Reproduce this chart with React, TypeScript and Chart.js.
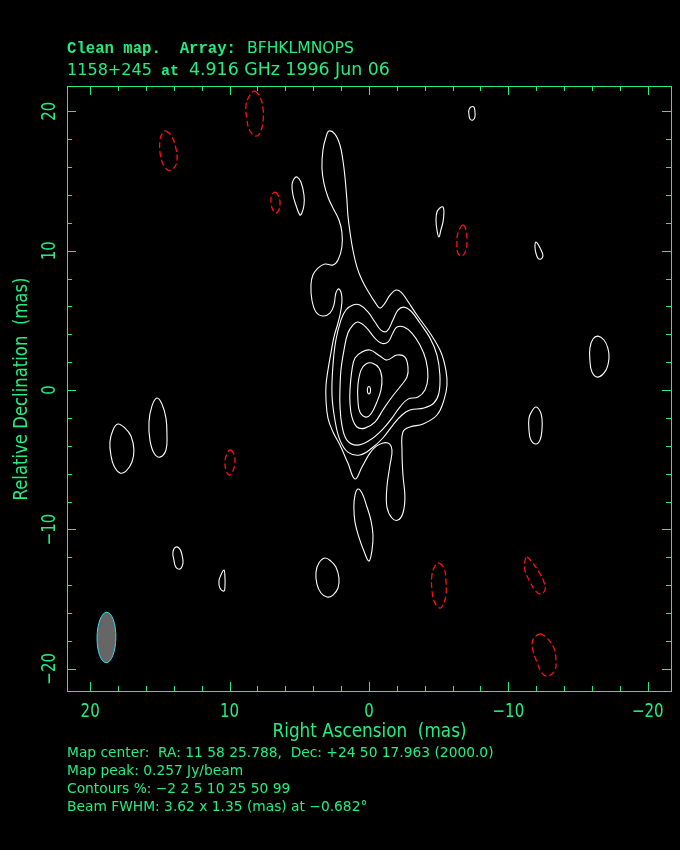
import { useEffect, useRef } from "react";
import { Chart, registerables } from "chart.js";

Chart.register(...registerables);

type Pt = [number, number]; // [relative RA (mas), relative Dec (mas)]

// ---------- axes ----------
const RA_MIN = -21.74;
const RA_MAX = 21.66;
const DEC_MIN = -21.66;
const DEC_MAX = 21.81;
const MAJOR_TICKS = [-20, -10, 0, 10, 20];
const MINOR_TICKS = [-18, -16, -14, -12, -8, -6, -4, -2, 2, 4, 6, 8, 12, 14, 16, 18];
const TICK_LABELS = ["−20", "−10", "0", "10", "20"];

// ---------- texts ----------
const TITLE_1A = "Clean map.  Array:";
const TITLE_1B = "BFHKLMNOPS";
const TITLE_2A = "1158+245";
const TITLE_2B = "at";
const TITLE_2C = "4.916 GHz 1996 Jun 06";
const X_TITLE = "Right Ascension  (mas)";
const Y_TITLE = "Relative Declination  (mas)";
const INFO_LINES = [
  "Map center:  RA: 11 58 25.788,  Dec: +24 50 17.963 (2000.0)",
  "Map peak: 0.257 Jy/beam",
  "Contours %: −2 2 5 10 25 50 99",
  "Beam FWHM: 3.62 x 1.35 (mas) at −0.682°",
];

// ---------- restoring beam ----------
const BEAM_RA = 18.83;
const BEAM_DEC = -17.75;
const BEAM_MAJOR = 3.62;
const BEAM_MINOR = 1.35;
const BEAM_PA = -0.682;

// ---------- positive contours (2, 5, 10, 25, 50, 99 %) ----------
const C99_CORE: Pt[] = [[0, 0.25], [-0.1, 0.12], [-0.1, -0.15], [0, -0.28], [0.1, -0.15], [0.1, 0.12]];
const C50_CORE: Pt[] = [
  [-0.22, 1.94], [-0.72, 1.58], [-0.93, 0.86], [-0.86, 0], [-0.57, -0.86], [-0.14, -1.72],
  [0.22, -1.94], [0.65, -1.58], [0.79, -0.72], [0.79, 0.36], [0.57, 1.43], [0.22, 1.87],
];
const C25_CORE: Pt[] = [
  [1.0, 2.3], [0.5, 2.73], [-0.07, 2.87], [-0.79, 2.44], [-1.29, 2.15], [-2.01, 2.51], [-2.58, 2.37],
  [-2.8, 1.65], [-2.73, 0.93], [-2.22, 0.22], [-1.65, -0.5], [-1.0, -1.43], [-0.43, -2.3],
  [0.29, -2.73], [0.86, -2.65], [1.22, -1.94], [1.36, -0.93], [1.36, 0], [1.22, 1.43],
];
const C10_CORE: Pt[] = [
  [1.51, 4.09], [1.15, 4.66], [0.79, 4.88], [0.22, 4.52], [-0.36, 3.8], [-0.86, 3.37], [-1.36, 3.44],
  [-1.72, 4.09], [-2.01, 4.52], [-2.51, 4.52], [-3.08, 4.09], [-3.66, 3.23], [-4.09, 2.15],
  [-4.23, 0.93], [-4.02, 0], [-3.52, -0.5], [-2.8, -0.65], [-2.22, -1.22], [-1.65, -2.01],
  [-0.93, -2.87], [-0.07, -3.59], [0.86, -3.95], [1.58, -3.59], [1.94, -2.51], [2.08, -1.08],
  [2.08, 0], [2.01, 1.43], [1.79, 2.87],
];
const C5_CORE: Pt[] = [
  [1.65, 5.74], [1.15, 6.1], [0.65, 6.1], [0.07, 5.6], [-0.43, 4.88], [-0.86, 4.3], [-1.29, 4.23],
  [-1.72, 5.02], [-2.08, 5.74], [-2.51, 5.95], [-3.01, 5.67], [-3.66, 4.81], [-4.38, 3.73],
  [-4.88, 2.51], [-5.09, 1.08], [-5.02, -0.22], [-4.66, -0.93], [-3.95, -1.29], [-2.94, -1.43],
  [-2.37, -1.79], [-1.72, -2.51], [-1.0, -3.44], [-0.22, -4.16], [0.65, -4.66], [1.51, -4.45],
  [2.08, -3.59], [2.44, -2.15], [2.65, -0.36], [2.58, 1.79], [2.37, 3.59], [2.01, 5.02],
];
const C2_JET: Pt[] = [
  [2.87, 18.58], [2.44, 18.36], [2.08, 17.58], [1.87, 16.5], [1.72, 15.28], [1.58, 13.63],
  [1.51, 12.55], [1.36, 11.33], [1.15, 10.04], [0.86, 8.82], [0.5, 7.89], [0.07, 7.1],
  [-0.43, 6.31], [-0.79, 5.88], [-1.15, 6.24], [-1.51, 6.81], [-1.94, 7.17], [-2.3, 7.03],
  [-2.73, 6.46], [-3.44, 5.38], [-4.38, 4.09], [-5.16, 2.73], [-5.52, 1.43], [-5.6, 0.36],
  [-5.38, -0.72], [-4.88, -1.79], [-3.87, -2.44], [-2.94, -2.65], [-2.44, -3.01], [-2.37, -4.3],
  [-2.44, -6.1], [-2.58, -7.68], [-2.44, -8.82], [-2.08, -9.33], [-1.65, -9.18], [-1.29, -8.39],
  [-1.29, -6.96], [-1.51, -5.38], [-1.65, -4.3], [-1.36, -3.8], [-0.65, -3.95], [-0.07, -4.52],
  [0.5, -5.52], [1.0, -6.38], [1.51, -5.24], [2.08, -3.95], [2.58, -3.01], [2.94, -2.01],
  [3.08, -0.72], [3.08, 0.36], [2.94, 1.43], [2.73, 2.65], [2.51, 3.8], [2.22, 4.81], [2.01, 5.74],
  [1.94, 6.67], [2.15, 7.25], [2.37, 6.96], [2.51, 6.1], [2.8, 5.52], [3.3, 5.31], [3.8, 5.6],
  [4.09, 6.46], [4.16, 7.53], [4.02, 8.25], [3.66, 8.75], [3.16, 9.04], [2.58, 8.97], [2.22, 9.33],
  [1.94, 10.26], [1.94, 11.33], [2.15, 12.2], [2.58, 13.06], [2.94, 13.85], [3.23, 14.85],
  [3.37, 15.93], [3.3, 17.22], [3.08, 18.15],
];
const C2_NE1: Pt[] = [
  [5.16, 15.28], [4.88, 14.92], [4.66, 13.99], [4.66, 13.27], [4.81, 12.7], [4.95, 12.55],
  [5.24, 13.27], [5.45, 13.99], [5.52, 14.71], [5.38, 15.14],
];
const C2_NW1: Pt[] = [
  [-5.09, 13.06], [-5.31, 13.13], [-5.38, 12.77], [-5.31, 12.05], [-5.16, 11.48], [-5.02, 10.98],
  [-4.88, 11.48], [-4.81, 12.2], [-4.88, 12.77],
];
const C2_NW2: Pt[] = [
  [-7.32, 20.3], [-7.53, 20.3], [-7.6, 20.0], [-7.6, 19.58], [-7.46, 19.37], [-7.25, 19.44],
  [-7.17, 19.8], [-7.17, 20.08],
];
const C2_NW3: Pt[] = [
  [-11.98, 10.62], [-12.2, 10.33], [-12.41, 9.9], [-12.48, 9.61], [-12.34, 9.4], [-12.12, 9.47],
  [-11.98, 9.83], [-11.91, 10.26],
];
const C2_W1: Pt[] = [
  [-16.43, 3.87], [-16.86, 3.59], [-17.14, 3.01], [-17.22, 2.3], [-17.0, 1.43], [-16.43, 0.93],
  [-16.0, 1.29], [-15.85, 2.15], [-15.85, 3.01], [-16.07, 3.66],
];
const C2_W2: Pt[] = [
  [-11.98, -1.22], [-12.27, -1.51], [-12.41, -2.01], [-12.41, -2.87], [-12.27, -3.59],
  [-11.98, -3.87], [-11.62, -3.59], [-11.48, -2.87], [-11.48, -2.01], [-11.69, -1.51],
];
const C2_E1: Pt[] = [
  [18.01, -2.44], [17.5, -2.73], [17.07, -3.3], [16.86, -4.3], [17.0, -5.16], [17.43, -5.81],
  [17.86, -5.95], [18.29, -5.45], [18.51, -4.66], [18.58, -3.73], [18.36, -2.87],
];
const C2_E2: Pt[] = [
  [15.21, -0.57], [14.85, -1.0], [14.56, -2.01], [14.49, -3.23], [14.56, -4.3], [14.99, -4.81],
  [15.42, -4.52], [15.71, -3.59], [15.78, -2.3], [15.57, -1.15],
];
const C2_SE1: Pt[] = [
  [13.85, -11.26], [13.56, -11.41], [13.41, -11.84], [13.34, -12.41], [13.56, -12.84],
  [13.85, -12.7], [13.99, -12.2], [14.06, -11.62],
];
const C2_SE2: Pt[] = [
  [10.4, -12.91], [10.33, -13.41], [10.33, -14.13], [10.4, -14.42], [10.69, -14.2], [10.76, -13.7],
  [10.62, -13.27],
];
const C2_S1: Pt[] = [
  [3.16, -12.05], [2.73, -12.27], [2.37, -12.7], [2.15, -13.49], [2.22, -14.2], [2.58, -14.71],
  [3.01, -14.85], [3.44, -14.56], [3.73, -13.92], [3.8, -13.06], [3.59, -12.41],
];
const C2_S2: Pt[] = [
  [0.79, -7.1], [0.5, -7.39], [0.14, -8.39], [-0.14, -9.33], [-0.29, -10.4], [-0.22, -11.48],
  [0, -12.27], [0.36, -11.55], [0.72, -10.55], [1.0, -9.47], [1.08, -8.39], [1.0, -7.53],
];

// ---------- negative contours (-2 %) ----------
const N2_A: Pt[] = [
  [8.18, 21.45], [7.82, 21.02], [7.6, 20.23], [7.6, 19.23], [7.82, 18.44], [8.11, 18.22],
  [8.54, 18.58], [8.75, 19.37], [8.82, 20.44], [8.54, 21.16],
];
const N2_B: Pt[] = [
  [14.56, 18.58], [14.13, 18.15], [13.85, 17.36], [13.77, 16.5], [13.99, 15.93], [14.42, 15.78],
  [14.78, 16.21], [14.99, 17.07], [14.99, 17.93], [14.85, 18.36],
];
const N2_C: Pt[] = [
  [6.74, 14.2], [6.53, 13.99], [6.38, 13.49], [6.46, 12.91], [6.67, 12.7], [6.89, 12.91],
  [7.03, 13.49], [6.96, 13.99],
];
const N2_D: Pt[] = [
  [-6.74, 11.84], [-6.96, 11.48], [-7.03, 10.76], [-6.96, 10.04], [-6.67, 9.61], [-6.38, 9.83],
  [-6.31, 10.55], [-6.38, 11.26],
];
const N2_E: Pt[] = [
  [9.97, -4.3], [9.68, -4.59], [9.61, -5.16], [9.76, -5.81], [10.04, -6.1], [10.26, -5.74],
  [10.33, -5.09], [10.19, -4.59],
];
const N2_F: Pt[] = [
  [-5.02, -12.41], [-5.38, -12.77], [-5.52, -13.63], [-5.52, -14.71], [-5.31, -15.42],
  [-5.09, -15.64], [-4.73, -15.28], [-4.52, -14.35], [-4.52, -13.27], [-4.73, -12.63],
];
const N2_G: Pt[] = [
  [-11.33, -11.98], [-11.69, -12.34], [-12.2, -13.06], [-12.55, -13.77], [-12.63, -14.35],
  [-12.27, -14.63], [-11.91, -14.35], [-11.48, -13.63], [-11.19, -12.91], [-11.19, -12.27],
];
const N2_H: Pt[] = [
  [-12.27, -17.5], [-12.77, -17.79], [-13.27, -18.51], [-13.41, -19.37], [-13.34, -20.09],
  [-12.84, -20.52], [-12.41, -20.3], [-12.05, -19.51], [-11.76, -18.65], [-11.76, -17.93],
];

const POSITIVE_CONTOURS: Pt[][] = [
  C99_CORE, C50_CORE, C25_CORE, C10_CORE, C5_CORE, C2_JET, C2_NE1, C2_NW1, C2_NW2, C2_NW3,
  C2_W1, C2_W2, C2_E1, C2_E2, C2_SE1, C2_SE2, C2_S1, C2_S2,
];
const NEGATIVE_CONTOURS: Pt[][] = [N2_A, N2_B, N2_C, N2_D, N2_E, N2_F, N2_G, N2_H];

// ---------- styling ----------
const GREEN = "#22ee80";
const SANS = "'DejaVu Sans', sans-serif";
const MONO = "'Liberation Mono', monospace";

function drawText(
  ctx: CanvasRenderingContext2D, s: string, x: number, y: number, font: string,
  align: CanvasTextAlign, stretch = 1, rot = 0,
) {
  ctx.save();
  ctx.translate(x, y);
  if (rot) ctx.rotate(rot);
  ctx.scale(1, stretch);
  ctx.font = font;
  ctx.textAlign = align;
  ctx.textBaseline = "alphabetic";
  ctx.fillText(s, 0, 0);
  ctx.restore();
}

function fitFont(ctx: CanvasRenderingContext2D, s: string, family: string, weight: string, width: number) {
  ctx.save();
  ctx.font = `${weight} 100px ${family}`;
  const w = ctx.measureText(s).width;
  ctx.restore();
  return `${weight} ${((100 * width) / w).toFixed(2)}px ${family}`;
}

const decorPlugin = {
  id: "decor",
  afterDatasetsUpdate(chart: any) {
    chart.data.datasets.forEach((_: any, i: number) => {
      const line = chart.getDatasetMeta(i).dataset;
      if (line) {
        line._loop = true;
        line._fullLoop = true;
        delete line._segments;
        line._pointsUpdated = false;
      }
    });
  },
  beforeDraw(chart: any) {
    const ctx = chart.ctx as CanvasRenderingContext2D;
    ctx.save();
    ctx.fillStyle = "#000";
    ctx.fillRect(0, 0, chart.width, chart.height);
    ctx.restore();
  },
  afterDatasetsDraw(chart: any) {
    const ctx = chart.ctx as CanvasRenderingContext2D;
    const xs = chart.scales.x;
    const ys = chart.scales.y;
    const cx = xs.getPixelForValue(BEAM_RA);
    const cy = ys.getPixelForValue(BEAM_DEC);
    const rx = Math.abs(xs.getPixelForValue(BEAM_RA + BEAM_MINOR / 2) - cx);
    const ry = Math.abs(ys.getPixelForValue(BEAM_DEC + BEAM_MAJOR / 2) - cy);
    ctx.save();
    ctx.beginPath();
    ctx.ellipse(cx, cy, rx, ry, (-BEAM_PA * Math.PI) / 180, 0, Math.PI * 2);
    ctx.fillStyle = "#666666";
    ctx.fill();
    ctx.lineWidth = 1;
    ctx.strokeStyle = "#33ddee";
    ctx.stroke();
    ctx.restore();
  },
  afterDraw(chart: any) {
    const ctx = chart.ctx as CanvasRenderingContext2D;
    const { left, right, top, bottom } = chart.chartArea;
    const xs = chart.scales.x;
    const ys = chart.scales.y;
    ctx.save();
    ctx.strokeStyle = GREEN;
    ctx.fillStyle = GREEN;
    ctx.lineWidth = 1;
    ctx.strokeRect(left + 0.5, top + 0.5, right - left - 1, bottom - top - 1);

    const tick = (v: number, len: number) => {
      const px = Math.round(xs.getPixelForValue(v)) + 0.5;
      const py = Math.round(ys.getPixelForValue(v)) + 0.5;
      ctx.beginPath();
      ctx.moveTo(px, bottom - 1); ctx.lineTo(px, bottom - 1 - len);
      ctx.moveTo(px, top); ctx.lineTo(px, top + len);
      ctx.moveTo(left, py); ctx.lineTo(left + len, py);
      ctx.moveTo(right - 1, py); ctx.lineTo(right - 1 - len, py);
      ctx.stroke();
    };
    MAJOR_TICKS.forEach((v) => tick(v, 9));
    MINOR_TICKS.forEach((v) => tick(v, 5));

    const tickFont = `15px ${SANS}`;
    MAJOR_TICKS.forEach((v, i) => {
      drawText(ctx, TICK_LABELS[i], xs.getPixelForValue(v), 717, tickFont, "center", 1.25);
      drawText(ctx, TICK_LABELS[i], 55, ys.getPixelForValue(v), tickFont, "center", 1.25, -Math.PI / 2);
    });

    const xMid = (left + right) / 2;
    const yMid = (top + bottom) / 2;
    drawText(ctx, X_TITLE, xMid, 737, fitFont(ctx, X_TITLE, SANS, "normal", 194), "center", 1.15);
    drawText(ctx, Y_TITLE, 27, yMid, fitFont(ctx, Y_TITLE, SANS, "normal", 223), "center", 1.15, -Math.PI / 2);

    drawText(ctx, TITLE_1A, 67, 53, fitFont(ctx, TITLE_1A, MONO, "bold", 169), "left");
    drawText(ctx, TITLE_1B, 247, 53, fitFont(ctx, TITLE_1B, SANS, "normal", 107), "left");
    drawText(ctx, TITLE_2A, 67, 75, fitFont(ctx, TITLE_2A, SANS, "normal", 85), "left");
    drawText(ctx, TITLE_2B, 161, 75, fitFont(ctx, TITLE_2B, MONO, "bold", 18), "left");
    drawText(ctx, TITLE_2C, 189, 75, fitFont(ctx, TITLE_2C, SANS, "normal", 201), "left");

    const infoFont = `13.8px ${SANS}`;
    INFO_LINES.forEach((s, i) => drawText(ctx, s, 67, 757 + i * 18, infoFont, "left"));
    ctx.restore();
  },
};

function toPoints(c: Pt[]) {
  return c.map(([x, y]) => ({ x, y }));
}

export default function App() {
  const ref = useRef<HTMLCanvasElement>(null);
  useEffect(() => {
    document.body.style.margin = "0";
    document.body.style.background = "#000";
    const datasets: any[] = [
      ...POSITIVE_CONTOURS.map((c) => ({
        data: toPoints(c), borderColor: "#ffffff", borderWidth: 1.1, tension: 0.4,
        pointRadius: 0, fill: false,
      })),
      ...NEGATIVE_CONTOURS.map((c) => ({
        data: toPoints(c), borderColor: "#ff1010", borderWidth: 1.3, borderDash: [6, 3], tension: 0.4,
        pointRadius: 0, fill: false,
      })),
    ];
    const chart = new Chart(ref.current as HTMLCanvasElement, {
      type: "line",
      data: { datasets },
      options: {
        responsive: false,
        animation: false,
        devicePixelRatio: 1,
        events: [],
        layout: { padding: { left: 67, top: 86, right: 8, bottom: 158 } },
        scales: {
          x: { type: "linear", min: RA_MIN, max: RA_MAX, reverse: true, display: false },
          y: { type: "linear", min: DEC_MIN, max: DEC_MAX, display: false },
        },
        plugins: { legend: { display: false }, tooltip: { enabled: false }, title: { display: false } },
      },
      plugins: [decorPlugin],
    } as any);
    return () => chart.destroy();
  }, []);
  return (
    <div style={{ position: "absolute", left: 0, top: 0, width: 680, height: 850, background: "#000" }}>
      <canvas ref={ref} width={680} height={850} style={{ display: "block", width: 680, height: 850 }} />
    </div>
  );
}
